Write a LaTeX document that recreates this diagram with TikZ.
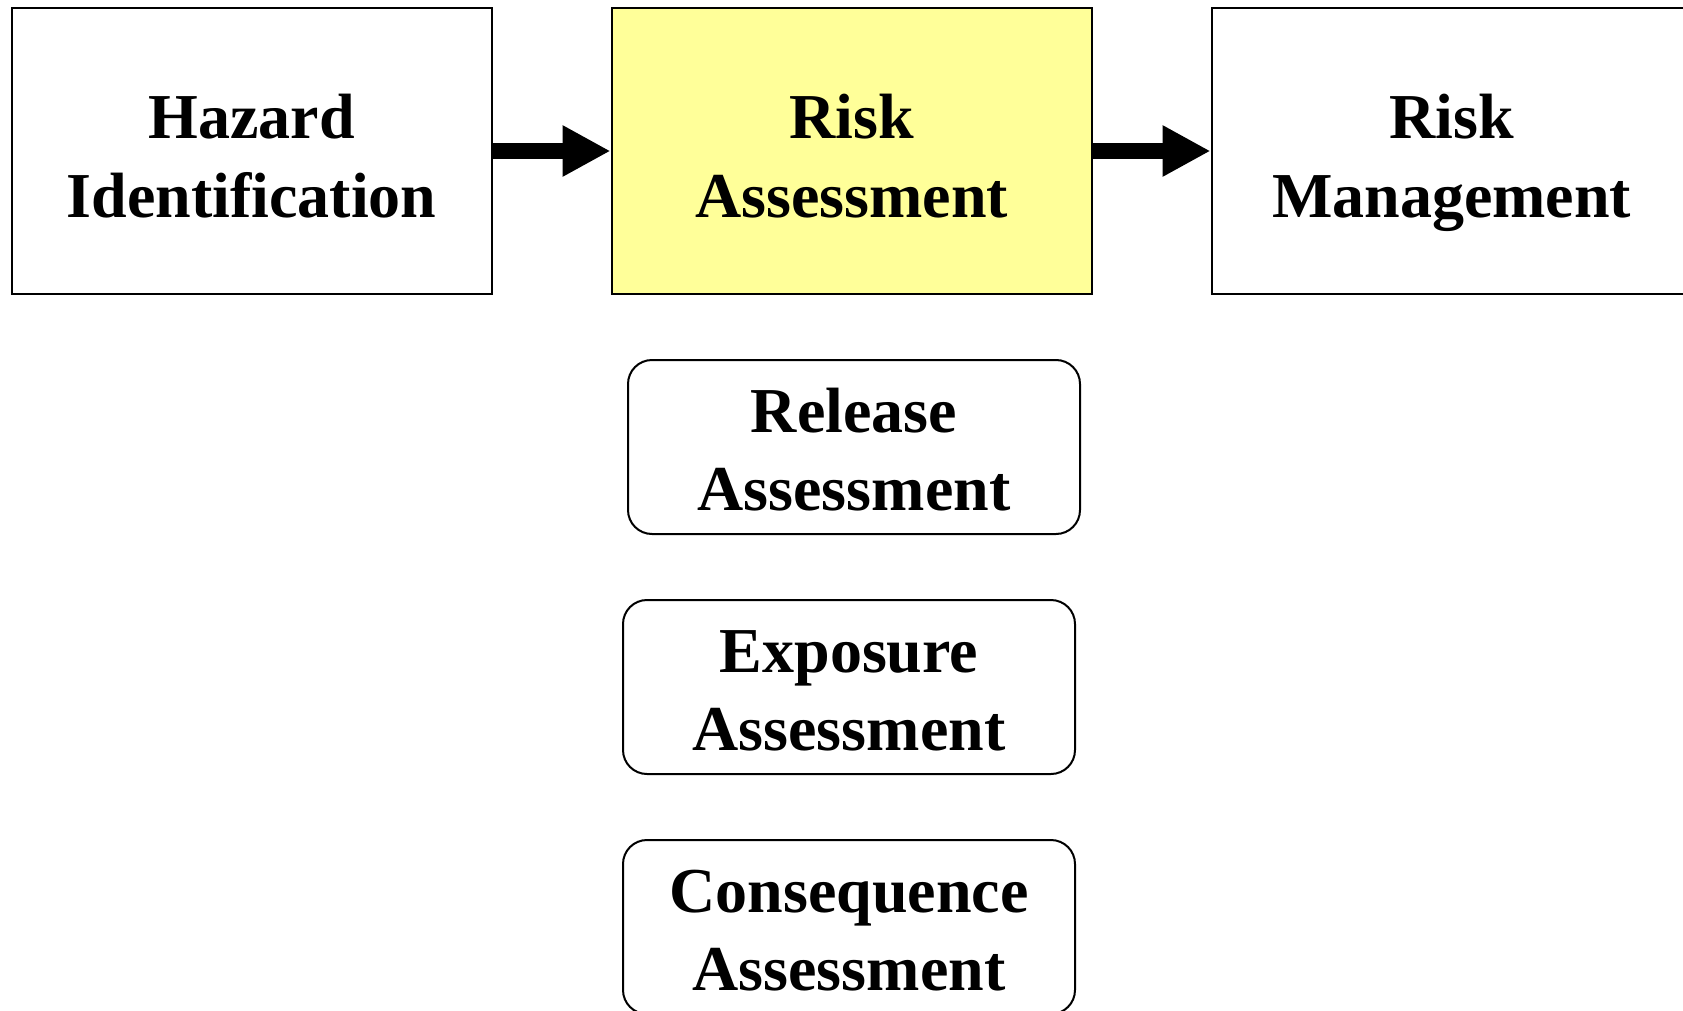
\documentclass[tikz,border=0pt]{standalone}
\usepackage{fontspec}
\setmainfont{Liberation Serif}
\usetikzlibrary{arrows.meta}
\definecolor{paleyellow}{HTML}{FFFF99}
\begin{document}
\begin{tikzpicture}[x=1pt,y=-1pt,
		stage/.style={draw,line width=2pt,inner sep=0pt,minimum width=480pt,minimum height=286pt,align=center,text height=132pt,text depth=0pt,font=\fontsize{64}{78}\selectfont\bfseries},
		sub/.style={draw,line width=2pt,rounded corners=24pt,inner sep=0pt,minimum width=452pt,minimum height=174pt,align=center,text height=126pt,text depth=0pt,font=\fontsize{64}{78}\selectfont\bfseries},
		flow/.style={line width=16pt,-{Triangle[length=48pt,width=48pt]}}]
		\useasboundingbox (0,0) rectangle (1683,1011);
		\node[stage] (hazard) at (251.5,151) {Hazard\\Identification};
		\node[stage,fill=paleyellow] (assess) at (851.5,151) {Risk\\Assessment};
		\node[stage] (manage) at (1451.5,151) {Risk\\Management};
		\draw[flow] (hazard) -- (assess);
		\draw[flow] (assess) -- (manage);
		\node[sub] (release) at (854,447) {Release\\Assessment};
		\node[sub] (exposure) at (849,687) {Exposure\\Assessment};
		\node[sub] (conseq) at (849,927) {Consequence\\Assessment};
	\end{tikzpicture}
\end{document}
